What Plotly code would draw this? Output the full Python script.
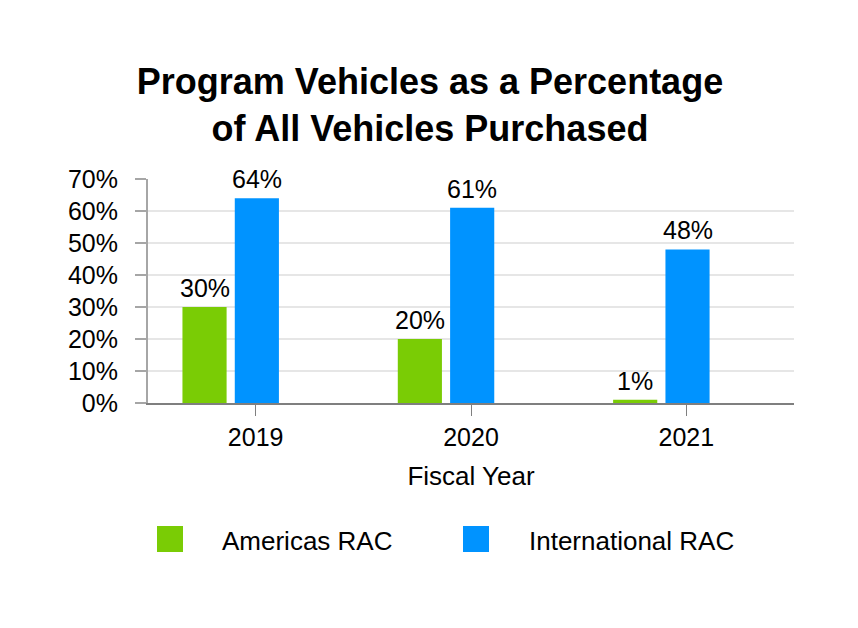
import plotly.graph_objects as go

# data
years = ["2019", "2020", "2021"]
americas = [30, 20, 1]
international = [64, 61, 48]
y_ticks = [0, 10, 20, 30, 40, 50, 60, 70]

GREEN = "#7ACC05"
BLUE = "#0093FF"
FONT = "Liberation Sans, Arial, sans-serif"

# the page body adds an 8px margin, so lay things out 8px up/left
OFF = 8
W, H = 858 - OFF, 628 - OFF
L, R, T, B = 148 - OFF, 794 - OFF, 179 - OFF, 403 - OFF

BAR_W = 0.205
series = [("Americas RAC", americas, GREEN, -0.34),
          ("International RAC", international, BLUE, -0.097)]


def px(x):
    # screen pixel x -> paper x
    return (x - OFF - L) / (R - L)


def py(y):
    # screen pixel y -> paper y
    return (B - (y - OFF)) / (B - T)


fig = go.Figure()

for name, vals, col, off in series:
    fig.add_trace(go.Bar(
        x=years, y=vals, name=name,
        marker=dict(color=col, line=dict(width=0)),
        width=BAR_W, offset=off,
        cliponaxis=False, showlegend=False,
    ))
    # value labels above each bar
    for i, v in enumerate(vals):
        fig.add_annotation(x=i + off + BAR_W / 2, y=v, text=f"{v}%",
                           showarrow=False, yanchor="bottom", yshift=3,
                           font=dict(family=FONT, size=25, color="#000"))

# legend drawn by hand to get the large square swatches
legend = [("Americas RAC", GREEN, 157, 220), ("International RAC", BLUE, 463, 527)]
for label, col, sx, tx in legend:
    fig.add_shape(type="rect", xref="paper", yref="paper",
                  x0=px(sx), x1=px(sx + 26), y0=py(552), y1=py(526),
                  fillcolor=col, line=dict(width=0))
    fig.add_annotation(text=label, xref="paper", yref="paper",
                       x=px(tx), y=py(541), xanchor="left", yanchor="middle",
                       showarrow=False, font=dict(family=FONT, size=26, color="#000"))

fig.update_layout(
    width=W, height=H,
    margin=dict(l=L, r=W - R, t=T, b=H - B, pad=0),
    paper_bgcolor="white", plot_bgcolor="white",
    title=dict(text="<b>Program Vehicles as a Percentage<br>of All Vehicles Purchased</b>",
               x=(430 - OFF) / W, xanchor="center", y=1 - (94 - OFF) / H, yanchor="middle",
               font=dict(family=FONT, size=36, color="#000")),
    font=dict(family=FONT, color="#000"),
)

fig.update_xaxes(
    type="category", range=[-0.5, 2.5],
    showline=True, linecolor="#7F7F7F", linewidth=2,
    ticks="outside", ticklen=11, tickcolor="#7F7F7F", tickwidth=1,
    tickfont=dict(family=FONT, size=25, color="#000"),
    showgrid=False,
    title=dict(text="Fiscal Year", font=dict(family=FONT, size=26, color="#000"), standoff=17),
)
fig.update_yaxes(
    range=[0, 70], tickvals=y_ticks, ticktext=[f"{v}%" for v in y_ticks],
    showline=True, linecolor="#A6A6A6", linewidth=2,
    ticks="outside", ticklen=11, tickcolor="#A6A6A6", tickwidth=2,
    ticklabelstandoff=12,
    tickfont=dict(family=FONT, size=25, color="#000"),
    showgrid=True, gridcolor="#E6E6E6", gridwidth=2,
    zeroline=False,
)

fig.write_html("out.html")
